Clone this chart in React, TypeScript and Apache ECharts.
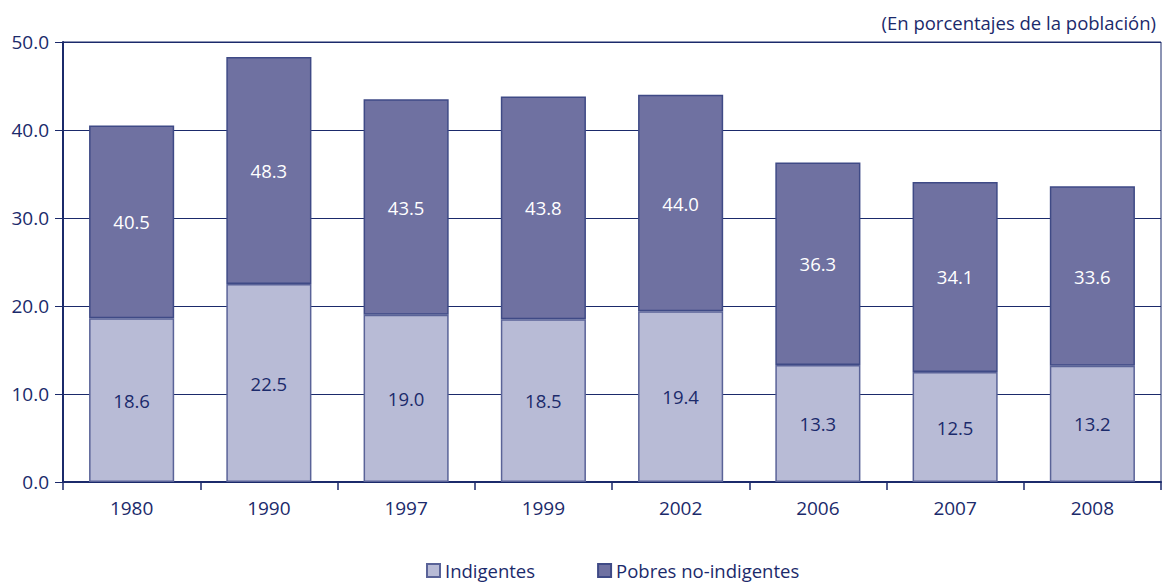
import React, { useEffect, useRef } from "react";
import * as echarts from "echarts";

const years = ["1980", "1990", "1997", "1999", "2002", "2006", "2007", "2008"];
const indigentes = [18.6, 22.5, 19.0, 18.5, 19.4, 13.3, 12.5, 13.2];
const pobresTotal = [40.5, 48.3, 43.5, 43.8, 44.0, 36.3, 34.1, 33.6];
const yTicks = [0, 10, 20, 30, 40, 50];

const NAVY = "#1b2a6b";
const FONT = "'Open Sans', 'Noto Sans', sans-serif";

export default function App() {
  const ref = useRef<HTMLDivElement>(null);
  useEffect(() => {
    if (!ref.current) return;
    const chart = echarts.init(ref.current, undefined, { renderer: "svg" });
    const noIndig = pobresTotal.map((t, i) => +(t - indigentes[i]).toFixed(1));
    chart.setOption({
      animation: false,
      textStyle: { fontFamily: FONT },
      title: {
        text: "(En porcentajes de la población)",
        right: 4,
        top: 8,
        textStyle: { fontFamily: FONT, fontSize: 18.5, fontWeight: "normal", color: NAVY },
      },
      legend: {
        top: 561,
        left: 426,
        itemWidth: 13,
        itemHeight: 13,
        itemGap: 62,
        padding: 0,
        icon: "rect",
        textStyle: { fontFamily: FONT, fontSize: 18.5, color: NAVY },
        data: ["Indigentes", "Pobres no-indigentes"],
      },
      grid: {
        left: 63,
        right: 4,
        top: 42,
        bottom: 100,
        show: true,
        borderColor: NAVY,
        borderWidth: 1,
      },
      xAxis: {
        type: "category",
        data: years,
        axisLine: { lineStyle: { color: NAVY, width: 2 } },
        axisTick: { show: true, length: 8, lineStyle: { color: NAVY, width: 1.5 } },
        axisLabel: { fontFamily: FONT, fontSize: 19, color: NAVY, margin: 16 },
      },
      yAxis: {
        type: "value",
        min: 0,
        max: 50,
        interval: 10,
        axisLine: { show: true, lineStyle: { color: NAVY, width: 2 } },
        axisTick: { show: true, length: 8, lineStyle: { color: NAVY } },
        splitLine: { lineStyle: { color: NAVY, width: 1 } },
        axisLabel: {
          fontFamily: FONT,
          fontSize: 19,
          color: NAVY,
          margin: 14,
          formatter: (v: number) => (yTicks.includes(v) ? v.toFixed(1) : ""),
        },
      },
      series: [
        {
          name: "Indigentes",
          type: "bar",
          stack: "p",
          barWidth: "62%",
          data: indigentes,
          itemStyle: { color: "#b8bbd6", borderColor: "#5a6398", borderWidth: 1.5 },
          label: {
            show: true,
            position: "inside",
            fontFamily: FONT,
            fontSize: 18.5,
            color: NAVY,
            formatter: (p: any) => indigentes[p.dataIndex].toFixed(1),
          },
        },
        {
          name: "Pobres no-indigentes",
          type: "bar",
          stack: "p",
          data: noIndig,
          itemStyle: { color: "#6f71a1", borderColor: "#3f4a86", borderWidth: 1.5 },
          label: {
            show: true,
            position: "inside",
            fontFamily: FONT,
            fontSize: 18.5,
            color: "#ffffff",
            formatter: (p: any) => pobresTotal[p.dataIndex].toFixed(1),
          },
        },
      ],
    });
    return () => chart.dispose();
  }, []);
  return (
    <div
      ref={ref}
      style={{ position: "absolute", left: 0, top: 0, width: 1165, height: 582 }}
    />
  );
}
